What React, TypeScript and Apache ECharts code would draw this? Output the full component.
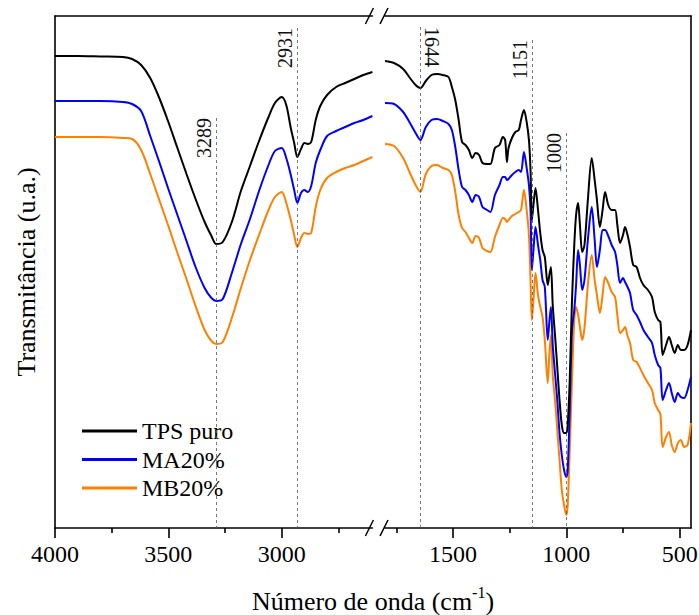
import React, { useEffect, useRef } from 'react';
import * as echarts from 'echarts';

const FONT = "'Liberation Serif', 'Times New Roman', Times, serif";

// Left segment (4000 - 2600 cm-1)
const LEFT_WN = [4000, 3900, 3800, 3700, 3660, 3620, 3580, 3540, 3500, 3460, 3420, 3380, 3340, 3310, 3289, 3260, 3220, 3180, 3140, 3100, 3060, 3030, 3000, 2980, 2960, 2945, 2931, 2915, 2900, 2885, 2870, 2850, 2830, 2800, 2760, 2720, 2680, 2640, 2600];
const TPS_LEFT = [472, 472, 471.5, 471, 469, 463, 450, 430, 406, 380, 354, 329, 306, 292, 284, 286, 306, 337, 362, 387, 410, 425, 431, 423, 400, 385, 371, 379, 385, 384, 386, 408, 422, 433, 441, 445, 449, 453, 456];
const MA_LEFT = [427, 427, 427, 426, 424, 417, 392, 366, 339, 313, 287, 261, 240, 230, 227, 229, 255, 284, 309, 337, 362, 377, 380, 370, 353, 338, 325, 335, 338, 336, 342, 365, 378, 392, 397, 401, 405, 408, 412];
const MB_LEFT = [391, 391, 391, 390, 389, 378, 354, 328, 302, 275, 249, 222, 198, 187, 184, 186, 210, 240, 268, 293, 317, 331, 336, 325, 308, 293, 281, 290, 295, 294, 295, 321, 338, 350, 356, 360, 363, 367, 371];

// Right segment (1800 - 450 cm-1)
const RIGHT_WN = [1800, 1760, 1720, 1690, 1665, 1644, 1620, 1595, 1570, 1545,
  1520, 1505, 1490, 1475, 1460, 1445, 1430, 1415, 1400, 1385,
  1370, 1350, 1335, 1315, 1295, 1280, 1270, 1262, 1255, 1240,
  1225, 1210, 1200, 1187, 1175, 1165, 1158, 1152, 1145, 1136,
  1125, 1115, 1105, 1095, 1082, 1075, 1068, 1060, 1050, 1040,
  1030, 1020, 1010, 1000, 994, 985, 975, 965, 957, 948,
  940, 930, 920, 905, 888, 875, 865, 852, 840, 829,
  815, 800, 785, 775, 763, 750, 741, 730, 719, 705,
  690, 675, 660, 640, 622, 610, 595, 585, 575, 560,
  547, 535, 522, 508, 495, 480, 465, 450];
const TPS_RIGHT = [467, 465, 459, 450, 443, 440, 447, 453, 454, 453,
  451, 441, 428, 408, 386, 383, 378, 370, 375, 373,
  365, 364, 364, 380, 383, 391, 388, 366, 380, 390,
  396, 398, 408, 418, 406, 388, 358, 308, 323, 340,
  318, 295, 278, 271, 243, 253, 261, 223, 193, 161,
  128, 103, 95, 95, 103, 148, 228, 283, 313, 325,
  303, 276, 283, 328, 370, 348, 328, 301, 318, 336,
  323, 318, 318, 303, 285, 293, 301, 293, 281, 263,
  261, 250, 243, 238, 231, 216, 208, 206, 173, 183,
  191, 183, 175, 183, 178, 178, 183, 198];
const MA_RIGHT = [425, 424, 416, 405, 395, 388, 401, 408, 409, 407,
  404, 398, 381, 358, 341, 338, 333, 326, 333, 331,
  321, 318, 316, 333, 343, 351, 351, 348, 349, 353,
  356, 358, 356, 376, 360, 343, 318, 258, 278, 301,
  283, 268, 248, 241, 188, 206, 221, 183, 155, 128,
  95, 73, 58, 51, 58, 118, 198, 218, 243, 278,
  263, 238, 248, 288, 321, 288, 261, 278, 298, 298,
  292, 283, 276, 263, 245, 250, 246, 241, 235, 218,
  213, 206, 198, 191, 185, 173, 163, 160, 128, 138,
  145, 135, 126, 135, 131, 130, 138, 151];
const MB_RIGHT = [384, 382, 370, 355, 343, 336, 354, 362, 363, 360,
  358, 353, 336, 313, 300, 296, 290, 285, 292, 290,
  280, 277, 276, 291, 303, 310, 309, 306, 308, 312,
  314, 316, 318, 338, 318, 293, 248, 208, 228, 255,
  233, 221, 211, 188, 145, 173, 193, 153, 128, 98,
  68, 38, 23, 13, 23, 78, 148, 208, 221, 213,
  201, 188, 200, 243, 273, 248, 233, 215, 233, 251,
  245, 236, 231, 213, 195, 198, 201, 192, 185, 168,
  166, 160, 153, 145, 138, 125, 118, 114, 81, 91,
  96, 83, 76, 85, 88, 81, 83, 105];

const SERIES_NAMES = ['TPS puro', 'MA20%', 'MB20%'];
const PEAKS = [3289, 2931, 1644, 1151, 1000];
const PEAK_TOPS = [410, 500, 501, 488, 395];
const PEAK_CLOCKWISE = [false, false, true, false, false];

const LEFT_RANGE = [2600, 4000];
const RIGHT_RANGE = [450, 1800];
const Y_RANGE = [0, 512];
const LEFT_MAJOR = [4000, 3500, 3000];
const LEFT_MINOR = [3750, 3250, 2750];
const RIGHT_MAJOR = [1500, 1000, 500];
const RIGHT_MINOR = [1750, 1250, 750];

const X_TITLE = 'Número de onda (cm';
const Y_TITLE = 'Transmitância (u.a.)';

const BLACK = '#000000';
const BLUE = '#0000ff';
const ORANGE = '#ff8000';

const zip = (xs: number[], ys: number[]) => xs.map((x, i) => [x, ys[i]]);

export default function App() {
  const ref = useRef<HTMLDivElement>(null);

  useEffect(() => {
    if (!ref.current) return;
    const chart = echarts.init(ref.current, undefined, { renderer: 'svg' });

    const axisLineStyle = { color: BLACK, width: 1.6 };
    const mkX = (grid: number, range: number[], major: number[] | null, minor: number[] | null, top: boolean) => {
      const base: any = {
        type: 'value', gridIndex: grid, min: range[0], max: range[1], inverse: true,
        position: top ? 'top' : 'bottom',
        splitLine: { show: false },
        axisLine: { show: true, onZero: false, lineStyle: axisLineStyle },
        axisTick: { show: false },
        axisLabel: { show: false },
      };
      if (major) {
        base.axisTick = { show: true, inside: false, length: 10, customValues: major, lineStyle: axisLineStyle };
        base.axisLabel = {
          show: true, customValues: major, fontFamily: FONT, fontSize: 24, color: BLACK, margin: 14,
          formatter: (v: number) => String(v),
        };
      }
      if (minor) {
        base.axisLine = { show: false, onZero: false };
        base.axisTick = { show: true, inside: false, length: 5, customValues: minor, lineStyle: axisLineStyle };
      }
      return base;
    };

    const lineSeries = (name: string, color: string, xi: number, yi: number, data: number[][], markData?: any[]) => ({
      type: 'line', name, xAxisIndex: xi, yAxisIndex: yi, data,
      showSymbol: false, symbol: 'none', smooth: 0.3,
      color, lineStyle: { color, width: 2 },
      silent: true, emphasis: { disabled: true },
      markLine: markData ? {
        silent: true, symbol: ['none', 'none'], label: { show: false },
        lineStyle: { type: [3, 3], color: '#555', width: 0.8 },
        data: markData,
      } : undefined,
    });

    const leftMarks: any[] = [];
    const rightMarks: any[] = [];
    PEAKS.forEach((p, i) => {
      const seg = [{ coord: [p, PEAK_TOPS[i]] }, { coord: [p, Y_RANGE[0]] }];
      if (p > 2000) leftMarks.push(seg); else rightMarks.push(seg);
    });

    const option: any = {
      animation: false,
      backgroundColor: '#ffffff',
      textStyle: { fontFamily: FONT },
      grid: [
        { left: 55, top: 16, width: 317.4, height: 512, containLabel: false, outerBoundsMode: 'none' },
        { left: 385, top: 16, width: 306, height: 512, containLabel: false, outerBoundsMode: 'none' },
      ],
      xAxis: [
        mkX(0, LEFT_RANGE, LEFT_MAJOR, null, false),
        mkX(0, LEFT_RANGE, null, LEFT_MINOR, false),
        mkX(0, LEFT_RANGE, null, null, true),
        mkX(1, RIGHT_RANGE, RIGHT_MAJOR, null, false),
        mkX(1, RIGHT_RANGE, null, RIGHT_MINOR, false),
        mkX(1, RIGHT_RANGE, null, null, true),
      ],
      yAxis: [
        {
          type: 'value', gridIndex: 0, min: Y_RANGE[0], max: Y_RANGE[1], position: 'left',
          axisLine: { show: true, onZero: false, lineStyle: axisLineStyle },
          axisTick: { show: false }, axisLabel: { show: false }, splitLine: { show: false },
          name: Y_TITLE, nameLocation: 'middle', nameRotate: 90, nameGap: 16,
          nameTextStyle: { fontFamily: FONT, fontSize: 26, color: BLACK },
        },
        {
          type: 'value', gridIndex: 1, min: Y_RANGE[0], max: Y_RANGE[1], position: 'right',
          axisLine: { show: true, onZero: false, lineStyle: axisLineStyle },
          axisTick: { show: false }, axisLabel: { show: false }, splitLine: { show: false },
        },
      ],
      legend: {
        data: SERIES_NAMES,
        orient: 'vertical', left: 77, top: 414,
        icon: 'rect', itemWidth: 55, itemHeight: 3, itemGap: 4.5,
        textStyle: { fontFamily: FONT, fontSize: 24, color: BLACK, lineHeight: 24 },
        selectedMode: false,
      },
      series: [
        lineSeries(SERIES_NAMES[2], ORANGE, 0, 0, zip(LEFT_WN, MB_LEFT)),
        lineSeries(SERIES_NAMES[1], BLUE, 0, 0, zip(LEFT_WN, MA_LEFT)),
        lineSeries(SERIES_NAMES[0], BLACK, 0, 0, zip(LEFT_WN, TPS_LEFT), leftMarks),
        lineSeries(SERIES_NAMES[2], ORANGE, 3, 1, zip(RIGHT_WN, MB_RIGHT)),
        lineSeries(SERIES_NAMES[1], BLUE, 3, 1, zip(RIGHT_WN, MA_RIGHT)),
        lineSeries(SERIES_NAMES[0], BLACK, 3, 1, zip(RIGHT_WN, TPS_RIGHT), rightMarks),
      ],
    };
    chart.setOption(option);

    // Derived annotation positions
    const xL = (v: number) => chart.convertToPixel({ xAxisIndex: 0 }, v) as number;
    const xR = (v: number) => chart.convertToPixel({ xAxisIndex: 3 }, v) as number;
    const yP = (v: number) => chart.convertToPixel({ yAxisIndex: 0 }, v) as number;

    const graphics: any[] = [];
    PEAKS.forEach((p, i) => {
      const px = p > 2000 ? xL(p) : xR(p);
      const py = yP(PEAK_TOPS[i]);
      const cw = PEAK_CLOCKWISE[i];
      graphics.push({
        type: 'text',
        x: cw ? px + 2 : px - 2,
        y: py,
        rotation: cw ? -Math.PI / 2 : Math.PI / 2,
        silent: true,
        style: {
          text: String(p), fontFamily: FONT, fontSize: 20, fill: '#111',
          align: cw ? 'left' : 'right', verticalAlign: 'bottom',
        },
      });
    });

    // axis break marks
    const breakL = xL(LEFT_RANGE[0]);
    const breakR = xR(RIGHT_RANGE[1]);
    const yTop = yP(Y_RANGE[1]);
    const yBot = yP(Y_RANGE[0]);
    [yTop, yBot].forEach((yy) => {
      [breakL - 3, breakR - 1].forEach((cx) => {
        graphics.push({
          type: 'line', silent: true,
          shape: { x1: cx - 4, y1: yy + 8, x2: cx + 4, y2: yy - 8 },
          style: { stroke: BLACK, lineWidth: 1.5 },
        });
      });
    });

    // x axis title centred under both segments
    const xc = (xL(LEFT_RANGE[1]) + xR(RIGHT_RANGE[0])) / 2;
    graphics.push({
      type: 'text', silent: true, x: xc, y: yBot + 73,
      style: {
        text: '{a|' + X_TITLE + '}{s|-1}{a|)}',
        align: 'center', verticalAlign: 'middle',
        rich: {
          a: { fontFamily: FONT, fontSize: 26, fill: BLACK, lineHeight: 34 },
          s: { fontFamily: FONT, fontSize: 16, fill: BLACK, lineHeight: 12, verticalAlign: 'top' },
        },
      },
    });

    chart.setOption({ graphic: graphics });

    return () => chart.dispose();
  }, []);

  return (
    <div
      ref={ref}
      style={{ position: 'fixed', left: 0, top: 0, width: 699, height: 615, background: '#fff' }}
    />
  );
}
